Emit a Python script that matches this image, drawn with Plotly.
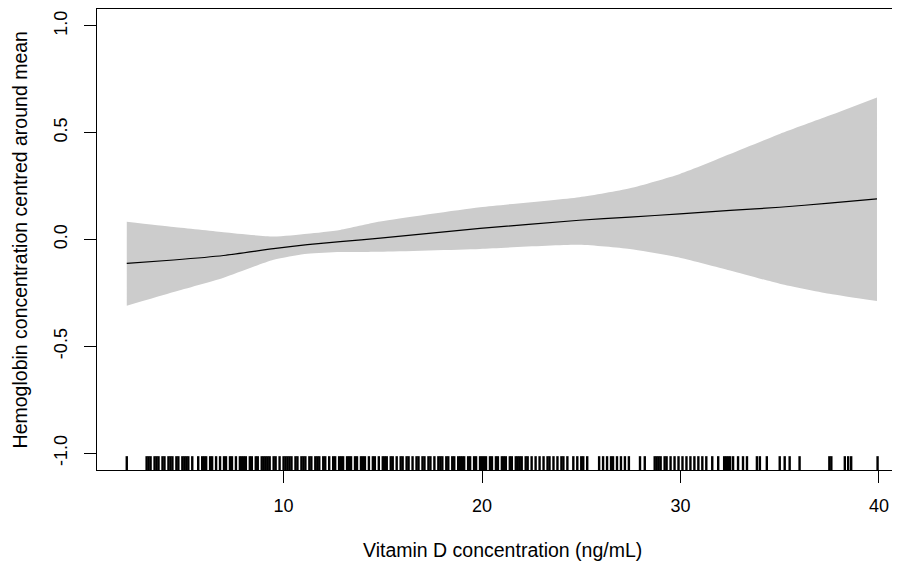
import plotly.graph_objects as go

# Smooth fit and confidence band
fit_x = [2.1, 4.46, 6.98, 9.5, 11.2, 12.85, 14.87, 19.9, 24.9, 27.45, 29.97, 32.5, 35.0, 37.5, 39.9]
fit_y = [-0.112, -0.096, -0.075, -0.043, -0.024, -0.010, 0.006, 0.052, 0.090, 0.105, 0.120, 0.136, 0.151, 0.170, 0.190]
upper = [0.083, 0.058, 0.034, 0.014, 0.027, 0.045, 0.084, 0.151, 0.198, 0.240, 0.307, 0.400, 0.494, 0.580, 0.665]
lower = [-0.310, -0.246, -0.179, -0.095, -0.067, -0.059, -0.057, -0.044, -0.025, -0.045, -0.085, -0.145, -0.207, -0.254, -0.288]

# Rug of observed vitamin D values
rug_vals = [
    2.1,
    3.1, 3.2, 3.3, 3.5, 3.6, 3.7, 3.9,
    4.0, 4.2, 4.3, 4.4, 4.6, 4.7, 4.9,
    5.0, 5.1, 5.2, 5.4, 5.7, 5.9,
    6.0, 6.1, 6.3, 6.4, 6.6, 6.8,
    7.0, 7.1, 7.3, 7.4, 7.6, 7.8, 7.9,
    8.0, 8.1, 8.3, 8.4, 8.6, 8.7, 8.9,
    9.0, 9.1, 9.2, 9.3, 9.5, 9.6, 9.8,
    10.0, 10.1, 10.2, 10.3, 10.4, 10.6, 10.7, 10.9,
    11.0, 11.1, 11.3, 11.4, 11.6, 11.7, 11.8,
    12.0, 12.1, 12.3, 12.5, 12.6, 12.8, 12.9,
    13.0, 13.2, 13.3, 13.4, 13.6, 13.7, 13.9,
    14.0, 14.1, 14.3, 14.5, 14.6, 14.8,
    15.0, 15.1, 15.2, 15.4, 15.5, 15.7, 15.9,
    16.0, 16.2, 16.3, 16.5, 16.7, 16.8,
    17.0, 17.1, 17.3, 17.4, 17.6, 17.8, 17.9,
    18.0, 18.2, 18.3, 18.5, 18.6, 18.8, 18.9,
    19.0, 19.1, 19.3, 19.4, 19.6, 19.7, 19.9,
    20.0, 20.1, 20.2, 20.4, 20.5, 20.7, 20.8,
    21.0, 21.1, 21.2, 21.4, 21.5, 21.7, 21.8, 21.9,
    22.0, 22.2, 22.3, 22.5, 22.7, 22.9,
    23.1, 23.3, 23.4, 23.6, 23.8,
    24.0, 24.1, 24.3, 24.6, 24.8,
    25.0, 25.1, 25.3,
    25.9, 26.1, 26.3, 26.5, 26.6, 26.8, 27.0, 27.2, 27.4,
    27.96, 28.2,
    28.7, 28.8, 28.9, 29.0, 29.2, 29.3,
    29.5, 29.7, 29.9, 30.1, 30.3, 30.5, 30.7, 30.9, 31.1, 31.3, 31.6,
    31.9, 32.2, 32.3, 32.4, 32.5,
    32.65, 32.9, 33.15, 33.35,
    33.85, 34.0, 34.35,
    35.0, 35.25, 35.5, 36.0,
    37.5, 37.6, 38.28, 38.45, 38.6, 39.93,
]

x_ticks = [10, 20, 30, 40]
y_ticks = [-1.0, -0.5, 0.0, 0.5, 1.0]
y_tick_text = ["-1.0", "-0.5", "0.0", "0.5", "1.0"]

x_range = [0.6, 41.06]
y_range = [-1.079, 1.079]
rug_len = 0.03 * (y_range[1] - y_range[0])

FONT = "Liberation Sans, Arial, sans-serif"

fig = go.Figure()

fig.add_trace(go.Scatter(x=fit_x, y=upper, mode="lines", line=dict(width=0, shape="spline", smoothing=0.6),
                         hoverinfo="skip", showlegend=False))
fig.add_trace(go.Scatter(x=fit_x, y=lower, mode="lines", line=dict(width=0, shape="spline", smoothing=0.6),
                         fill="tonexty", fillcolor="#cccccc", hoverinfo="skip", showlegend=False))
fig.add_trace(go.Scatter(x=fit_x, y=fit_y, mode="lines", line=dict(color="black", width=1.2, shape="spline", smoothing=0.6),
                         showlegend=False))

rx, ry = [], []
for v in rug_vals:
    rx += [v, v, None]
    ry += [y_range[0], y_range[0] + rug_len, None]
fig.add_trace(go.Scatter(x=rx, y=ry, mode="lines", line=dict(color="black", width=2.4),
                         hoverinfo="skip", showlegend=False))

# The page body adds an 8px offset, so the figure is sized to end at the window edge.
fig.update_layout(
    width=892, height=555,
    margin=dict(l=89, r=0, t=1, b=93, autoexpand=False),
    paper_bgcolor="white", plot_bgcolor="white",
    font=dict(family=FONT, size=18, color="black"),
    xaxis=dict(range=x_range, tickvals=x_ticks, ticks="outside", ticklen=12, tickwidth=1,
               tickcolor="black", showline=True, linecolor="black", linewidth=1, mirror=True,
               showgrid=False, zeroline=False, ticklabelstandoff=7, automargin=False,
               tickfont=dict(family=FONT, size=18)),
    yaxis=dict(range=y_range, tickvals=y_ticks, ticktext=y_tick_text, tickangle=-90,
               ticks="outside", ticklen=12, tickwidth=1, tickcolor="black",
               showline=True, linecolor="black", linewidth=1, mirror=False,
               showgrid=False, zeroline=False, ticklabelstandoff=10, automargin=False,
               tickfont=dict(family=FONT, size=18)),
    annotations=[
        dict(text="Vitamin D concentration (ng/mL)", xref="paper", yref="paper",
             x=0.505, y=-0.173, xanchor="center", yanchor="middle", showarrow=False,
             font=dict(family=FONT, size=19.5)),
        dict(text="Hemoglobin concentration centred around mean", xref="paper", yref="paper",
             x=-0.096, y=0.5, xanchor="center", yanchor="middle", textangle=-90, showarrow=False,
             font=dict(family=FONT, size=19.5)),
    ],
)

fig.write_html("out.html")
